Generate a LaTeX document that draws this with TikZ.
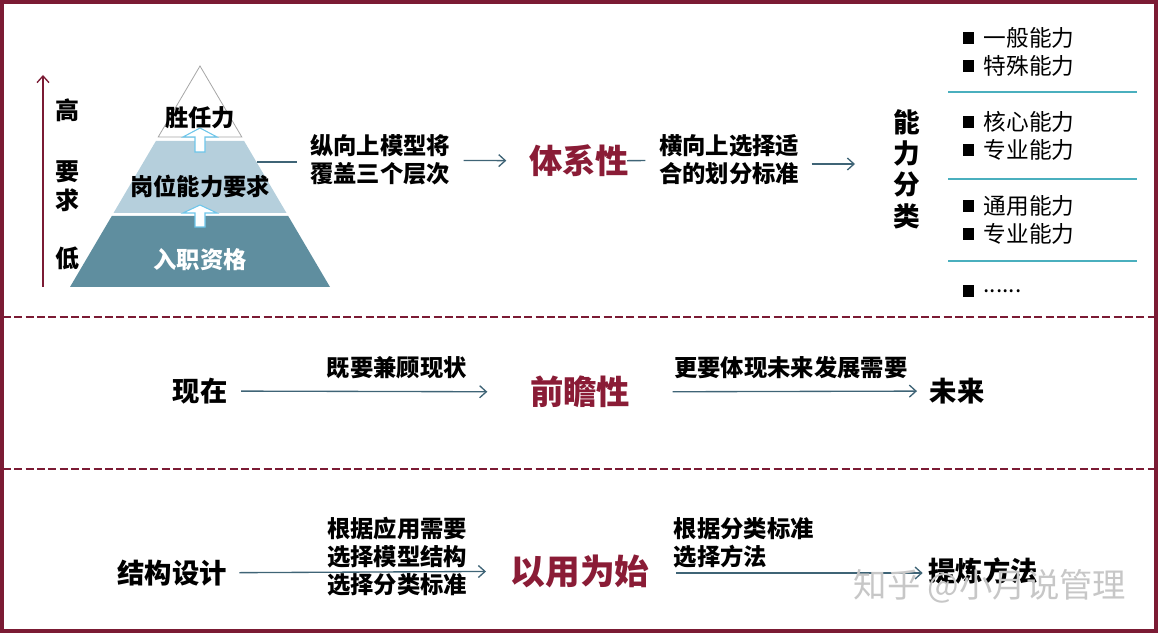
\documentclass[tikz,border=0pt]{standalone}
\usepackage{fontspec}
\setmainfont{Noto Sans CJK SC}
\usetikzlibrary{arrows.meta}
\definecolor{framered}{HTML}{7B1B34}
\definecolor{keyred}{HTML}{8A1C36}
\definecolor{flowgray}{HTML}{3F6476}
\definecolor{lowblue}{HTML}{5F8E9F}
\definecolor{midblue}{HTML}{B5CFDC}
\definecolor{upblue}{HTML}{6EC6EA}
\definecolor{septeal}{HTML}{4AAFBE}
\begin{document}
\begin{tikzpicture}[
				x=0.75pt, y=-0.75pt,
				line width=1pt,
				txt/.style={font=\bfseries\fontsize{17.5}{21}\selectfont, inner sep=0pt, align=left},
				word/.style={font=\bfseries\fontsize{20.5}{24}\selectfont, inner sep=0pt},
				key/.style={font=\bfseries\fontsize{25}{30}\selectfont, text=keyred, inner sep=0pt},
				item/.style={font=\fontsize{17}{20}\selectfont, inner sep=0pt, anchor=west,
								label={[fill=black, minimum size=8.5pt, inner sep=0pt, label distance=6pt]left:{}}},
				flow/.style={draw=flowgray, -{Straight Barb[length=5pt, width=9pt]}},
				upblock/.style={draw=upblue, fill=white, line width=0.8pt},
				]
				\useasboundingbox (0,0) rectangle (1160,634);
				% frame and row separators
				\draw[framered, line width=2.5pt] (2,2) rectangle (1156,631);
				\draw[framered, line width=1.6pt, dash pattern=on 6pt off 2.5pt] (3,317) -- (1155,317);
				\draw[framered, line width=1.6pt, dash pattern=on 6pt off 2.5pt] (3,469) -- (1155,469);

				% pyramid
				\fill[lowblue] (111.8,216) -- (288.2,216) -- (330,287) -- (70,287) -- cycle;
				\fill[midblue] (155.9,141) -- (244.1,141) -- (286.5,213) -- (113.5,213) -- cycle;
				\draw[gray!70, line width=0.6pt, fill=white] (200,66) -- (241.8,137) -- (158.2,137) -- cycle;
				\draw[upblock] (200,128) -- (217,137) -- (205,137) -- (205,152) -- (195,152) -- (195,137) -- (183,137) -- cycle;
				\draw[upblock] (200,205) -- (217,213) -- (205,213) -- (205,227) -- (195,227) -- (195,213) -- (183,213) -- cycle;
				\node[txt] (tsr) at (200,118) {胜任力};
				\node[txt] (gw) at (200,186) {岗位能力要求};
				\node[txt, text=white] (rz) at (200,260) {入职资格};
				\coordinate (pyrR) at (257,162);

				% requirement axis
				\coordinate (lo) at (43,287);
				\coordinate (hi) at (43,75);
				\draw[framered, -{Straight Barb[length=5pt, width=9pt]}] (lo) -- (hi);
				\node[txt, font=\bfseries\fontsize{18}{21}\selectfont] (gao) at (67,110) {高};
				\node[txt, font=\bfseries\fontsize{18}{21}\selectfont] (yao) at (67,172) {要};
				\node[txt, font=\bfseries\fontsize{18}{21}\selectfont] (qiu) at (67,200) {求};
				\node[txt, font=\bfseries\fontsize{18}{21}\selectfont] (di) at (67,258) {低};

				% row 1
				\node[txt] (ztext) at (380,160) {纵向上模型将\\覆盖三个层次};
				\node[key] (tix) at (579,161) {体系性};
				\node[txt] (htext) at (729,160) {横向上选择适\\合的划分标准};
				\node[word, align=center, font=\bfseries\fontsize{20}{23.5}\selectfont] (nlfl) at (907,169) {能\\力\\分\\类};
				\draw[draw=flowgray] (pyrR) -- (pyrR -| ztext.west) [shorten >=9pt];
				\draw[flow, shorten <=9.75pt, shorten >=16.5pt] (ztext) -- (tix);
				\draw[draw=flowgray, shorten <=-2pt, shorten >=9.75pt] (tix) -- (htext);
				\draw[flow, shorten <=9pt, shorten >=28.5pt] ([yshift=-3pt]htext.east) -- ([yshift=-3pt]htext.east -| nlfl.west);

				% classification list
				\node[item] (i1) at (983,38) {一般能力};
				\node[item] (i2) at (983,66) {特殊能力};
				\node[item] (i3) at (983,122) {核心能力};
				\node[item] (i4) at (983,150) {专业能力};
				\node[item] (i5) at (983,206) {通用能力};
				\node[item] (i6) at (983,234) {专业能力};
				\node[item] (i7) at (983,291) {......};
				\draw[septeal, line width=0.8pt] (948,92) -- (1137,92);
				\draw[septeal, line width=0.8pt] (948,179) -- (1137,179);
				\draw[septeal, line width=0.8pt] (948,261) -- (1137,261);

				% row 2
				\node[word] (now) at (200,391) {现在};
				\node[key] (qzx) at (580,392) {前瞻性};
				\node[word] (fut) at (957,391) {未来};
				\draw[flow, shorten <=9.75pt, shorten >=31.5pt] (now) -- (qzx)
								node[txt, pos=0.56, above=9pt] (jygu) {既要兼顾现状};
				\draw[flow, shorten <=31.5pt, shorten >=9pt] (qzx) -- (fut)
								node[txt, pos=0.537, above=9pt] (gyti) {更要体现未来发展需要};

				% row 3
				\node[word] (jg) at (172,573) {结构设计};
				\node[key, font=\bfseries\fontsize{26}{30}\selectfont] (yy) at (580,571) {以用为始};
				\node[word] (tl) at (983,571) {提炼方法};
				\node[txt, align=center] (gyx) at (397,557) {根据应用需要\\选择模型结构\\选择分类标准};
				\node[txt, anchor=west] (flff) at (673,543) {根据分类标准\\选择方法};
				\draw[flow, shorten <=9pt, shorten >=18pt] (jg) -- (yy);
				\draw[flow, shorten <=19.5pt, shorten >=3.75pt] (yy.east |- jg) -- (yy.east |- jg -| tl.west);

				% watermark
				\node[text=black!22, font=\fontsize{25}{28}\selectfont, inner sep=0pt] (zh) at (990,586) {知乎 @小月说管理};
\end{tikzpicture}
\end{document}
